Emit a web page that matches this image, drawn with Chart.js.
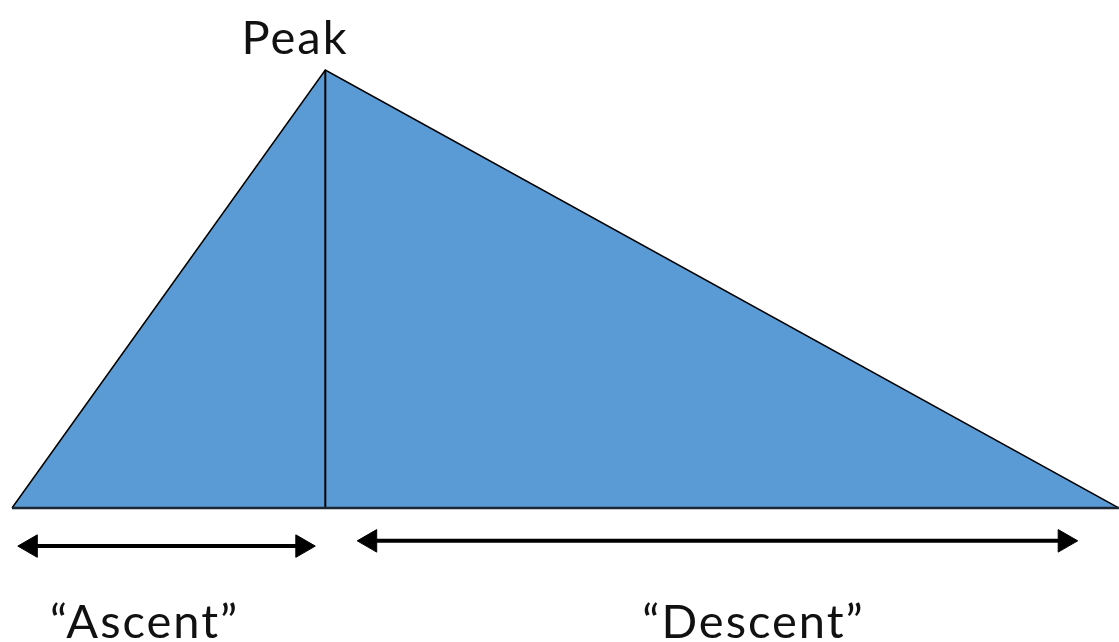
<!DOCTYPE html>
<html>
<head>
<meta charset="utf-8">
<script src="https://cdn.jsdelivr.net/npm/chart.js@4"></script>
<style>
  html, body { margin: 0; padding: 0; background: #ffffff; }
  #wrap { width: 1119px; height: 642px; position: relative; }
</style>
</head>
<body>
<div id="wrap"><canvas id="c"></canvas></div>
<script>
// ---- data (abstract units: x = time, y = level) ----
const profileX = [0, 30, 106];          // start, peak, end
const profileY = [0, 100, 0];
const peakLineX = [30, 30];
const peakLineY = [0, 100];
const baseX = [0, 106];
const baseY = [0, 0];
const ascentArrowX = [1.8, 27.8];
const ascentArrowY = [-8.7, -8.7];
const descentArrowX = [34.3, 100.8];
const descentArrowY = [-7.5, -7.5];
const labelTexts = ['Peak', '\u201CAscent\u201D', '\u201CDescent\u201D'];
const labelX = [27.1, 12.7, 71.0];
const labelY = [103.7, -29.7, -29.7];

const pts = (xs, ys) => xs.map((x, i) => ({ x: x, y: ys[i] }));

const labelPlugin = {
  id: 'labels',
  afterDatasetsDraw(chart) {
    const ctx = chart.ctx;
    const xs = chart.scales.x, ys = chart.scales.y;
    ctx.save();
    ctx.fillStyle = '#111111';
    ctx.font = '47px Lato, "Open Sans", sans-serif';
    try { ctx.letterSpacing = '2px'; } catch (e) {}
    ctx.textAlign = 'center';
    ctx.textBaseline = 'alphabetic';
    labelTexts.forEach((t, i) => {
      ctx.fillText(t, xs.getPixelForValue(labelX[i]), ys.getPixelForValue(labelY[i]));
    });
    ctx.restore();
  }
};

new Chart(document.getElementById('c'), {
  type: 'scatter',
  data: {
    datasets: [
      {
        label: 'profile', data: pts(profileX, profileY), showLine: true,
        fill: 'origin', backgroundColor: '#5B9BD5', borderColor: '#000000',
        borderWidth: 1.5, pointRadius: 0, tension: 0, order: 10
      },
      {
        label: 'peakLine', data: pts(peakLineX, peakLineY), showLine: true,
        borderColor: '#000000', borderWidth: 2, pointRadius: 0, order: 5
      },
      {
        label: 'base', data: pts(baseX, baseY), showLine: true,
        borderColor: '#1b2733', borderWidth: 2.5, pointRadius: 0, order: 4
      },
      {
        label: 'ascent', data: pts(ascentArrowX, ascentArrowY), showLine: true,
        borderColor: '#000000', borderWidth: 4,
        pointStyle: 'triangle', pointRadius: 13, pointRotation: [-90, 90],
        pointBackgroundColor: '#000000', pointBorderColor: '#000000', pointBorderWidth: 1, order: 1
      },
      {
        label: 'descent', data: pts(descentArrowX, descentArrowY), showLine: true,
        borderColor: '#000000', borderWidth: 4,
        pointStyle: 'triangle', pointRadius: 13, pointRotation: [-90, 90],
        pointBackgroundColor: '#000000', pointBorderColor: '#000000', pointBorderWidth: 1, order: 1
      }
    ]
  },
  options: {
    responsive: true,
    maintainAspectRatio: false,
    animation: false,
    layout: { padding: 0, autoPadding: false },
    plugins: { legend: { display: false }, tooltip: { enabled: false } },
    scales: {
      x: { type: 'linear', display: false, min: -1.149, max: 106 },
      y: { type: 'linear', display: false, min: -30.6, max: 116 }
    }
  },
  plugins: [labelPlugin]
});
</script>
</body>
</html>
